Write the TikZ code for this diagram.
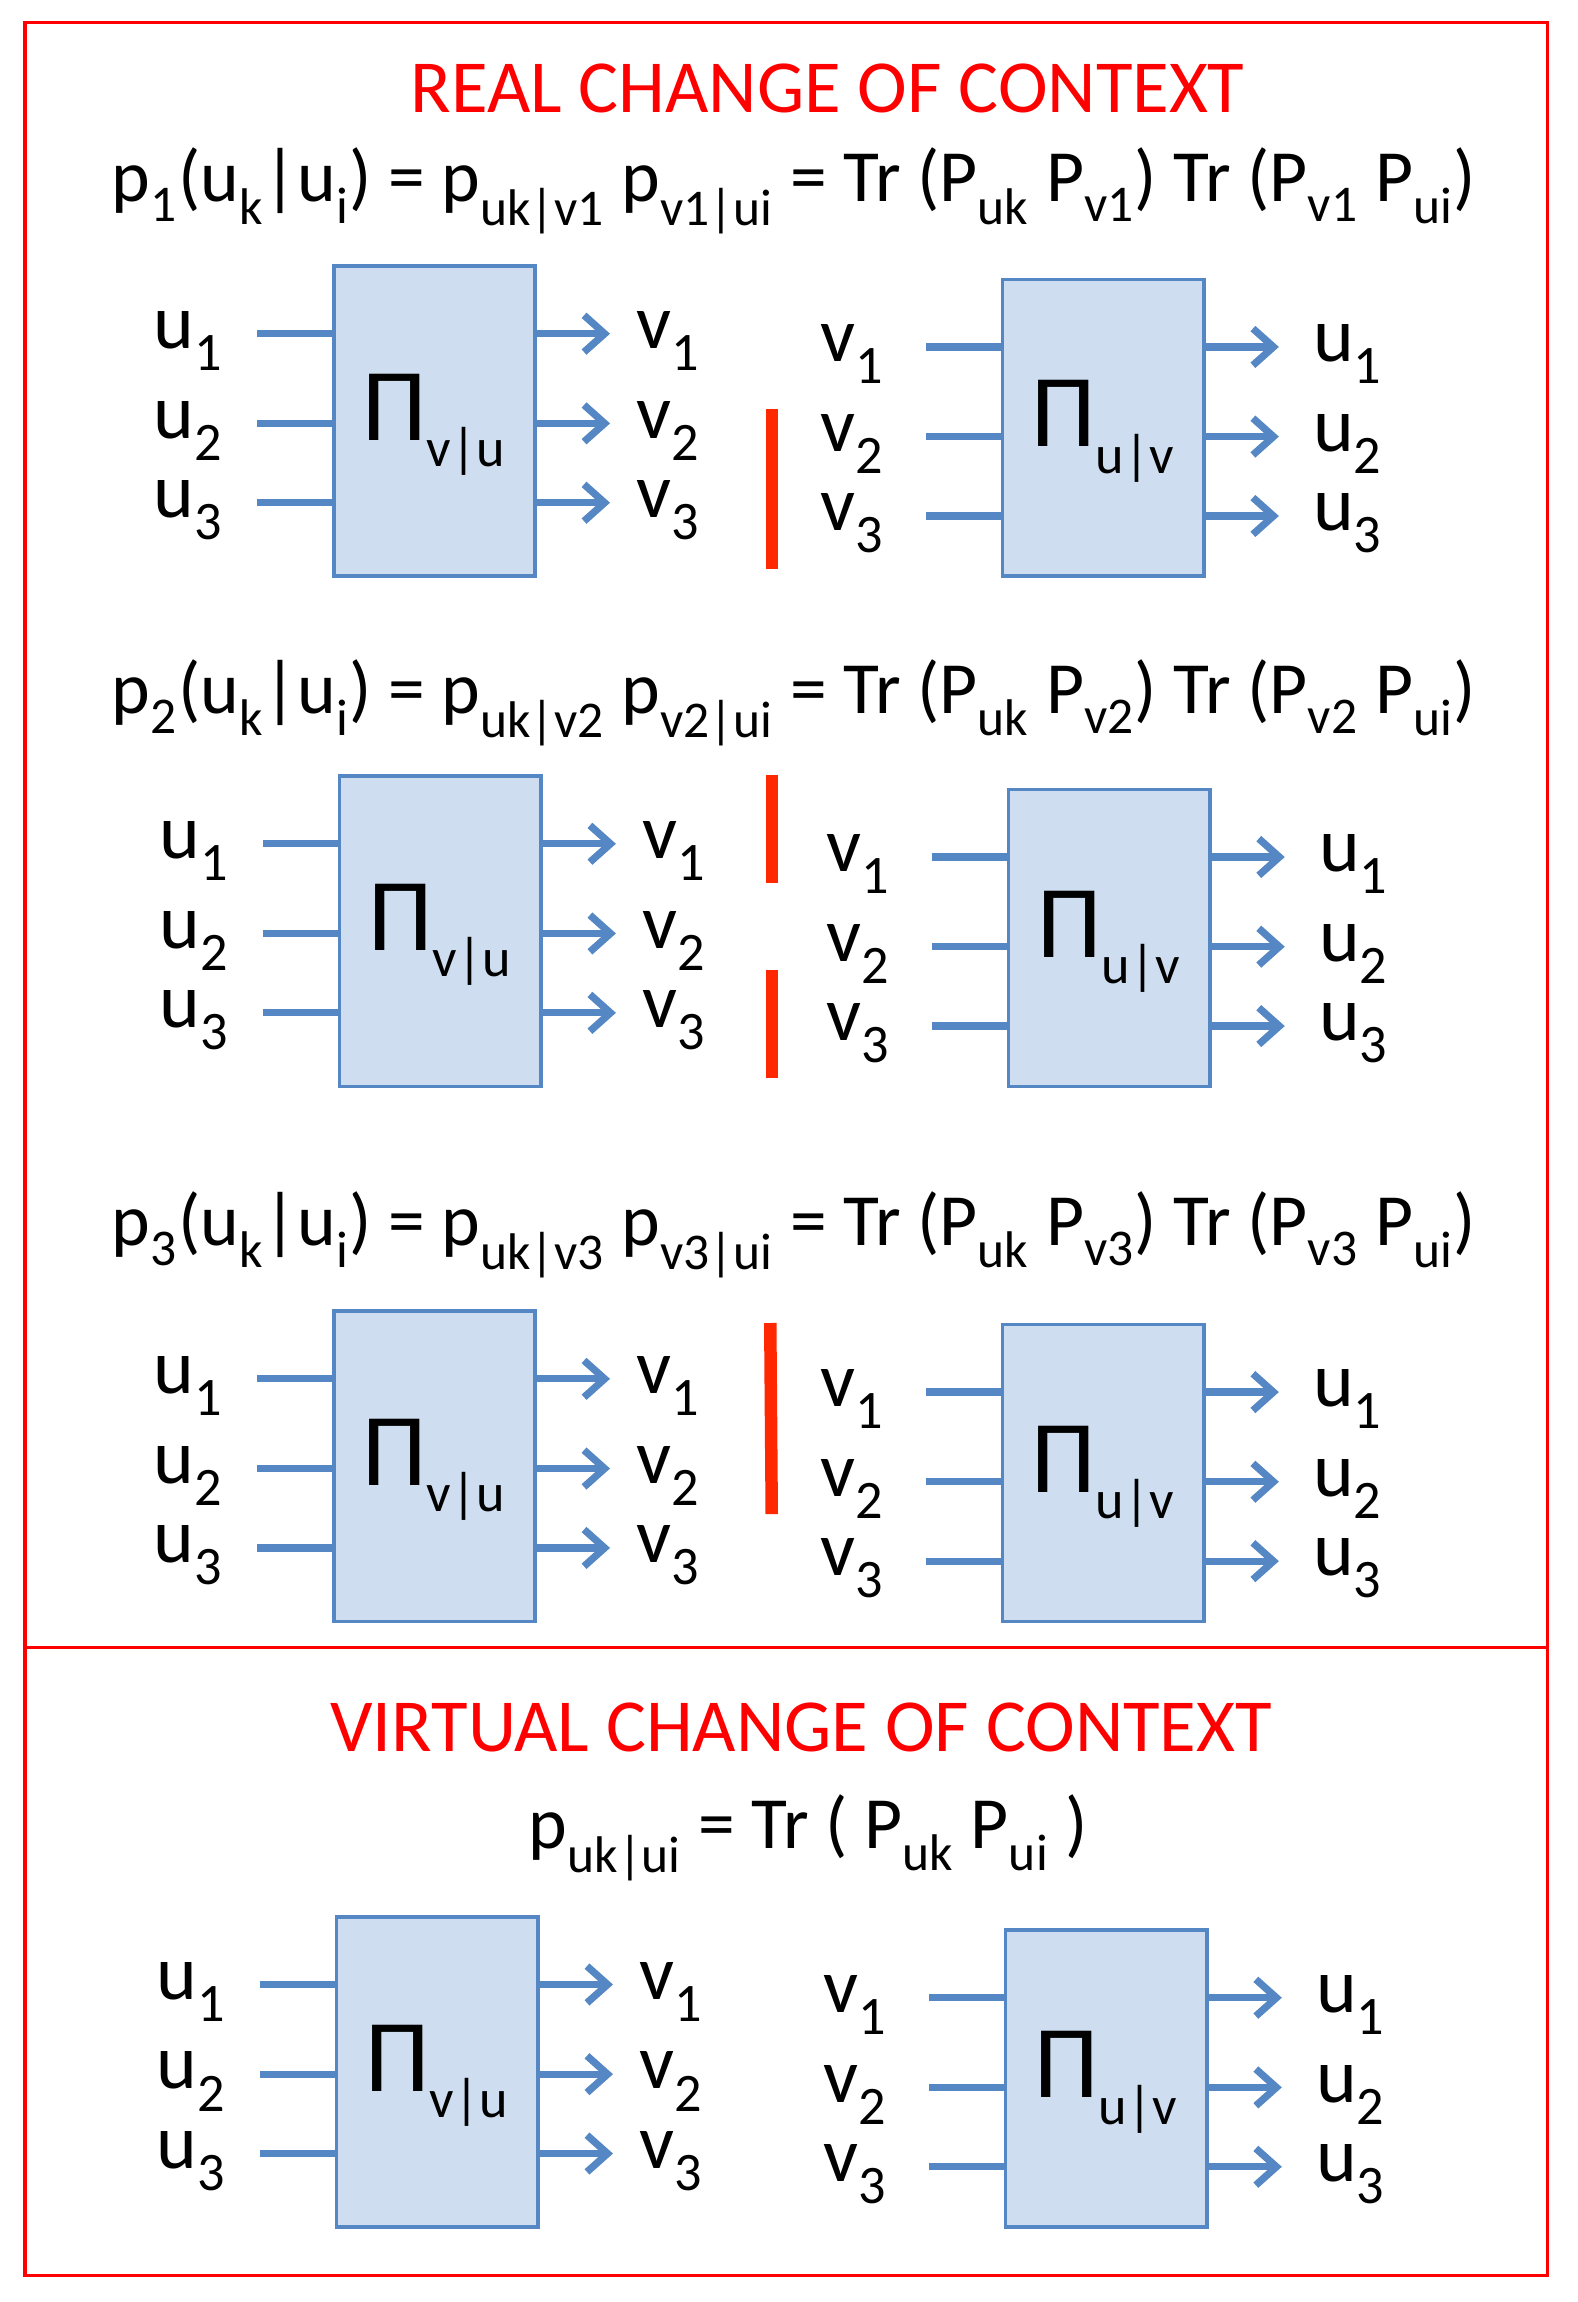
\documentclass[tikz,border=0pt]{standalone}
\usepackage{fontspec}
\setmainfont{Carlito}
\usetikzlibrary{arrows.meta}
\definecolor{boxfill}{RGB}{206,222,240}
\definecolor{boxline}{RGB}{84,135,195}
\definecolor{barred}{RGB}{255,40,0}
\newcommand\sbs[1]{\raisebox{-0.12em}{\textsubscript{#1}}}
% one row: prefix, left box top-left x,y, right box top-left x,y
\newcommand\pairrow[5]{%
    \node[box, minimum height=4.22cm] (#1L) at (#2+68.5, #3+105.5) {};
    \node[pilbl] at (#1L.center) {{\fontsize{40}{40}\selectfont Π}\sbs{v|u}};
    \node[box, minimum height=4.04cm] (#1R) at (#4+68.5, #5+101) {};
    \node[pilbl] at (#1R.center) {{\fontsize{40}{40}\selectfont Π}\sbs{u|v}};
    \foreach \i/\dy in {1/46,2/107,3/161}{
        \node[lbl] (#1ul\i) at (#2-99, #3+\dy+5) {u\sbs{\i}};
        \coordinate (#1ls\i) at (#2-52, #3+\dy);
        \coordinate (#1le\i) at (#2, #3+\dy);
        \draw[wire] (#1ls\i) -- (#1le\i);
        \coordinate (#1lo\i) at (#2+137, #3+\dy);
        \coordinate (#1lt\i) at (#2+188, #3+\dy);
        \draw[wire, arr] (#1lo\i) -- (#1lt\i);
        \node[lbl] (#1vl\i) at (#2+228, #3+\dy+5) {v\sbs{\i}};
        \node[lbl] (#1vr\i) at (#4-102, #5+\dy+5) {v\sbs{\i}};
        \coordinate (#1rs\i) at (#4-52, #5+\dy);
        \coordinate (#1re\i) at (#4, #5+\dy);
        \draw[wire] (#1rs\i) -- (#1re\i);
        \coordinate (#1ro\i) at (#4+137, #5+\dy);
        \coordinate (#1rt\i) at (#4+188, #5+\dy);
        \draw[wire, arr] (#1ro\i) -- (#1rt\i);
        \node[lbl] (#1ur\i) at (#4+235, #5+\dy+5) {u\sbs{\i}};
    }
}
\begin{document}
\begin{tikzpicture}[x=0.02cm, y=-0.02cm,
    box/.style={draw=boxline, fill=boxfill, line width=1.4pt, minimum width=2.74cm, inner sep=0},
    lbl/.style={font=\fontsize{30}{30}\selectfont, inner sep=0},
    pilbl/.style={font=\fontsize{30}{30}\selectfont, inner sep=0, yshift=-0.05cm},
    wire/.style={draw=boxline, line width=2.8pt},
    arr/.style={-{Straight Barb[length=0.28cm, width=0.5cm, line width=2.8pt]}},
    title/.style={text=red, font=\fontsize{29}{29}\selectfont},
    formula/.style={font=\fontsize{28.5}{28.5}\selectfont},
    bar/.style={draw=barred, line width=0.17cm}]
    \useasboundingbox (0,0) rectangle (1073,1566);
    \draw[red, line width=1.2pt] (17,15) rectangle (1053,1548);
    \draw[red, line width=1.2pt] (17,1121) -- (1053,1121);

    \node[title] (t1) at (563,60) {REAL CHANGE OF CONTEXT};
    \node[formula] (f1) at (540,130) {p\sbs{1}(u\sbs{k}|u\sbs{i}) = p\sbs{uk|v1} p\sbs{v1|ui} = Tr (P\sbs{uk} P\sbs{v1}) Tr (P\sbs{v1} P\sbs{ui})};
    \pairrow{a}{227}{181}{682}{190}
    \coordinate (ab1) at (525,278);
    \coordinate (ab2) at (525,387);
    \draw[bar] (ab1) -- (ab2);

    \node[formula] (f2) at (540,478) {p\sbs{2}(u\sbs{k}|u\sbs{i}) = p\sbs{uk|v2} p\sbs{v2|ui} = Tr (P\sbs{uk} P\sbs{v2}) Tr (P\sbs{v2} P\sbs{ui})};
    \pairrow{b}{231}{528}{686}{537}
    \coordinate (bb1) at (525,527);
    \coordinate (bb2) at (525,601);
    \coordinate (bb3) at (525,660);
    \coordinate (bb4) at (525,733);
    \draw[bar] (bb1) -- (bb2);
    \draw[bar] (bb3) -- (bb4);

    \node[formula] (f3) at (540,840) {p\sbs{3}(u\sbs{k}|u\sbs{i}) = p\sbs{uk|v3} p\sbs{v3|ui} = Tr (P\sbs{uk} P\sbs{v3}) Tr (P\sbs{v3} P\sbs{ui})};
    \pairrow{c}{227}{892}{682}{901}
    \coordinate (cb1) at (524,900);
    \coordinate (cb2) at (525,1030);
    \draw[bar] (cb1) -- (cb2);

    \node[title] (t2) at (545,1175) {VIRTUAL CHANGE OF CONTEXT};
    \node[formula] (f4) at (550,1250) {p\sbs{uk|ui} = Tr ( P\sbs{uk} P\sbs{ui} )};
    \pairrow{d}{229}{1304}{684}{1313}
\end{tikzpicture}
\end{document}
